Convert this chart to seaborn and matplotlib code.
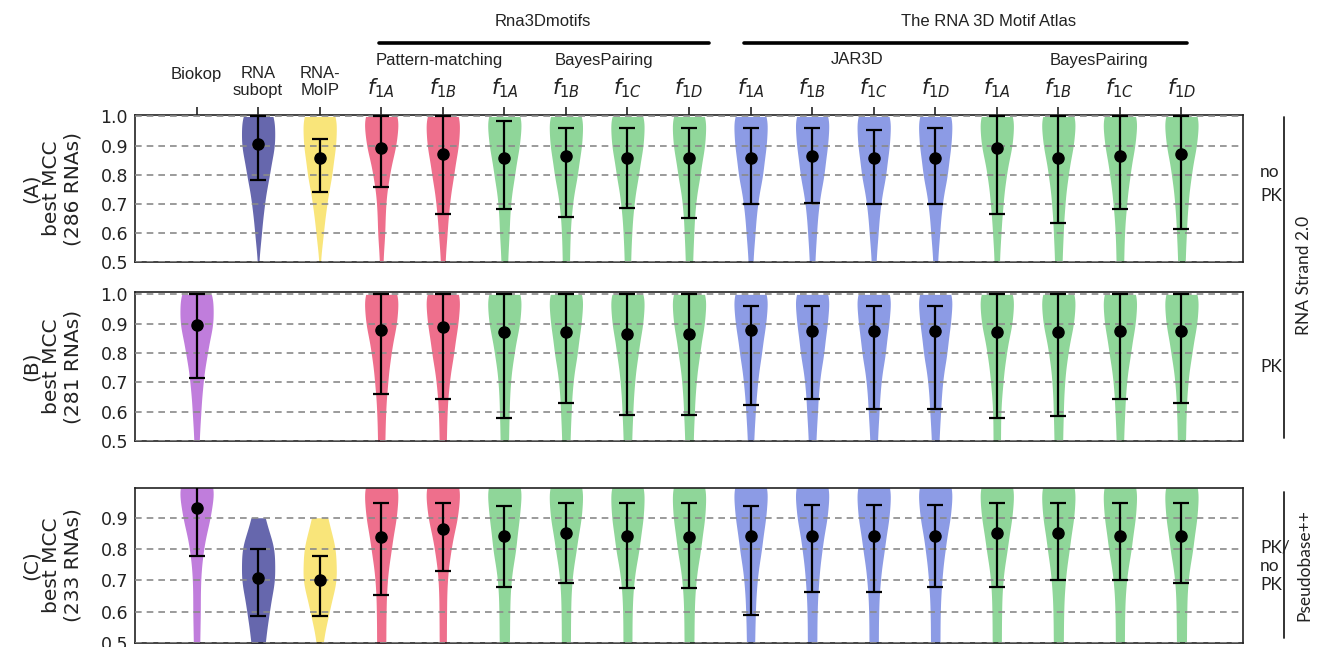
import numpy as np
import pandas as pd
import seaborn as sns
import matplotlib.pyplot as plt
import matplotlib.transforms as mtransforms
from matplotlib.lines import Line2D

# categories (internal keys) and the labels shown above the top panel
methods = ['Biokop', 'RNAsubopt', 'RNA-MoIP',
           'PM_f1A', 'PM_f1B',
           'R3D_BP_f1A', 'R3D_BP_f1B', 'R3D_BP_f1C', 'R3D_BP_f1D',
           'JAR3D_f1A', 'JAR3D_f1B', 'JAR3D_f1C', 'JAR3D_f1D',
           'ATL_BP_f1A', 'ATL_BP_f1B', 'ATL_BP_f1C', 'ATL_BP_f1D']
header_labels = ['Biokop', 'RNA\nsubopt', 'RNA-\nMoIP',
                 '$f_{1A}$', '$f_{1B}$',
                 '$f_{1A}$', '$f_{1B}$', '$f_{1C}$', '$f_{1D}$',
                 '$f_{1A}$', '$f_{1B}$', '$f_{1C}$', '$f_{1D}$',
                 '$f_{1A}$', '$f_{1B}$', '$f_{1C}$', '$f_{1D}$']
method_colors = ['#c07ddc', '#6667ad', '#f9e57a',
                 '#ee6f8c', '#ee6f8c',
                 '#8fd699', '#8fd699', '#8fd699', '#8fd699',
                 '#8c9be5', '#8c9be5', '#8c9be5', '#8c9be5',
                 '#8fd699', '#8fd699', '#8fd699', '#8fd699']

# MCC histogram: bin centres and RNAs per bin
mcc_bins = [0.2, 0.3, 0.4, 0.5, 0.6, 0.7, 0.8, 0.9, 1.0]

counts_a = [None,
            [0, 0, 0, 1, 6, 11, 20, 30, 31],
            [0, 0, 0, 1, 7, 13, 23, 30, 34],
            [2, 2, 3, 3, 7, 8, 15, 28, 36],
            [2, 3, 3, 4, 8, 12, 20, 29, 34],
            [3, 4, 5, 6, 9, 11, 19, 28, 35],
            [3, 4, 5, 7, 8, 12, 22, 30, 35],
            [3, 4, 5, 6, 8, 12, 21, 30, 35],
            [3, 4, 5, 7, 9, 12, 21, 30, 35],
            [2, 2, 3, 4, 8, 12, 22, 28, 33],
            [2, 3, 3, 5, 8, 12, 22, 28, 34],
            [2, 2, 3, 4, 8, 12, 22, 28, 33],
            [2, 2, 3, 4, 8, 12, 22, 28, 33],
            [2, 3, 4, 5, 8, 12, 18, 30, 36],
            [3, 4, 5, 7, 9, 12, 18, 28, 35],
            [3, 4, 5, 7, 8, 12, 18, 27, 34],
            [3, 4, 5, 7, 9, 12, 18, 28, 35]]

counts_b = [[1, 2, 3, 5, 8, 12, 20, 32, 33],
            None,
            None,
            [3, 4, 5, 7, 8, 12, 18, 29, 35],
            [3, 4, 5, 7, 8, 12, 21, 29, 36],
            [4, 5, 6, 8, 9, 11, 18, 29, 35],
            [4, 5, 6, 8, 10, 13, 22, 29, 36],
            [4, 5, 6, 8, 10, 13, 20, 29, 35],
            [4, 5, 6, 8, 10, 13, 20, 29, 35],
            [2, 3, 4, 6, 9, 13, 21, 29, 36],
            [3, 4, 5, 7, 10, 13, 22, 28, 35],
            [3, 4, 5, 7, 10, 13, 22, 28, 35],
            [3, 4, 5, 7, 10, 13, 22, 28, 35],
            [3, 4, 5, 7, 7, 11, 17, 28, 34],
            [4, 5, 6, 8, 9, 11, 17, 28, 34],
            [3, 4, 5, 7, 9, 12, 20, 29, 35],
            [4, 5, 6, 8, 9, 12, 20, 30, 36]]

counts_c = [[2, 3, 4, 6, 7, 7, 12, 25, 36],
            [1, 2, 6, 13, 20, 31, 31, 12, 0],
            [0, 1, 2, 5, 16, 30, 28, 14, 0],
            [4, 5, 7, 9, 9, 11, 19, 29, 36],
            [3, 4, 5, 7, 7, 8, 15, 28, 36],
            [4, 5, 7, 10, 10, 12, 22, 28, 36],
            [4, 5, 7, 9, 9, 11, 20, 30, 36],
            [4, 5, 7, 9, 9, 12, 23, 31, 36],
            [4, 5, 7, 10, 10, 13, 23, 31, 36],
            [3, 4, 6, 8, 9, 12, 21, 29, 36],
            [4, 5, 7, 9, 9, 12, 18, 28, 35],
            [4, 5, 7, 9, 9, 12, 20, 29, 35],
            [4, 5, 7, 9, 9, 12, 18, 28, 35],
            [4, 5, 7, 9, 9, 11, 20, 29, 36],
            [4, 5, 7, 10, 10, 13, 21, 30, 36],
            [4, 5, 7, 9, 9, 12, 22, 30, 36],
            [4, 5, 7, 10, 10, 12, 22, 30, 36]]

nan = np.nan
# black dot and error bar ends
mean_a = [nan, .906, .858, .891, .870, .858, .863, .858, .858, .858, .863, .858, .858, .891, .858, .863, .870]
low_a = [nan, .783, .740, .757, .666, .683, .655, .687, .650, .698, .704, .698, .698, .666, .634, .683, .613]
high_a = [nan, 1.0, .923, 1.0, 1.0, .986, .960, .960, .960, .960, .960, .954, .960, 1.0, 1.0, 1.0, 1.0]

mean_b = [.894, nan, nan, .880, .887, .870, .870, .866, .866, .877, .876, .876, .876, .870, .872, .876, .876]
low_b = [.714, nan, nan, .660, .642, .579, .628, .590, .590, .622, .642, .610, .610, .579, .584, .642, .628]
high_b = [1.0, nan, nan, 1.0, 1.0, 1.0, 1.0, 1.0, 1.0, .961, .961, .961, .961, 1.0, 1.0, 1.0, 1.0]

mean_c = [.932, .707, .702, .837, .865, .841, .852, .843, .838, .843, .841, .841, .841, .852, .852, .841, .841]
low_c = [.779, .586, .586, .654, .731, .680, .693, .676, .676, .589, .664, .664, .680, .680, .702, .702, .693]
high_c = [1.0, .800, .777, .948, .948, .937, .948, .948, .948, .937, .940, .940, .940, .948, .948, .948, .948]

panel_labels = ['(A)\nbest MCC\n(286 RNAs)', '(B)\nbest MCC\n(281 RNAs)', '(C)\nbest MCC\n(233 RNAs)']


def long_frame(counts):
    parts = []
    for m, c in zip(methods, counts):
        if c is None:
            continue
        parts.append(pd.DataFrame({'method': m, 'mcc': np.repeat(mcc_bins, c)}))
    return pd.concat(parts, ignore_index=True)


def fixed_bw(kde):
    # same kernel width for every violin
    return 0.056 / np.std(kde.dataset, ddof=1)


sns.set_theme(style='white')
plt.rcParams['font.family'] = ['DejaVu Sans']
palette = dict(zip(methods, method_colors))

W, H = 1317, 647
fig = plt.figure(figsize=(W / 100, H / 100), dpi=100)


def px_axes(left, top, right, bottom):
    return fig.add_axes([left / W, 1 - bottom / H, (right - left) / W, (bottom - top) / H])


ax_a = px_axes(135, 115, 1243, 262)
ax_b = px_axes(135, 292, 1243, 441)
ax_c = px_axes(135, 488, 1243, 643)

panels = [(ax_a, counts_a, mean_a, low_a, high_a, (0.5, 1.005), [0.5, 0.6, 0.7, 0.8, 0.9, 1.0]),
          (ax_b, counts_b, mean_b, low_b, high_b, (0.5, 1.008), [0.5, 0.6, 0.7, 0.8, 0.9, 1.0]),
          (ax_c, counts_c, mean_c, low_c, high_c, (0.5, 0.995), [0.5, 0.6, 0.7, 0.8, 0.9])]

for k, (ax, counts, mean, low, high, ylim, yticks) in enumerate(panels):
    df = long_frame(counts)
    sns.violinplot(data=df, x='method', y='mcc', hue='method', order=methods, hue_order=methods,
                   palette=palette, cut=0, inner=None, bw_method=fixed_bw, density_norm='width',
                   width=0.54, linewidth=0, saturation=1, legend=False, ax=ax)
    mean = np.array(mean)
    yerr = [mean - np.array(low), np.array(high) - mean]
    ax.errorbar(range(len(methods)), mean, yerr=yerr, fmt='o', color='black', ms=8,
                elinewidth=1.6, capsize=6, capthick=1.6, zorder=5)
    ax.set_xlim(-1, 17)
    ax.set_ylim(*ylim)
    ax.set_yticks(yticks)
    ax.set_yticklabels([f'{t:.1f}' for t in yticks])
    ax.yaxis.grid(True, linestyle=(0, (4, 3)), color='#8a8a8a', linewidth=1.2)
    ax.xaxis.grid(False)
    ax.set_axisbelow(False)
    ax.set_xlabel('')
    ax.set_ylabel('')
    ax.tick_params(axis='y', length=0, pad=5, labelsize=12.5, labelcolor='#222222')
    for s in ax.spines.values():
        s.set_color('#222222')
        s.set_linewidth(1.2)
    ax.text(-0.075, 0.5, panel_labels[k], transform=ax.transAxes, rotation=90,
            ha='center', va='center', multialignment='center', fontsize=14.5,
            linespacing=1.12, color='#222222')
    if k == 0:
        ax.set_xticks(range(len(methods)))
        ax.tick_params(axis='x', top=True, bottom=False, labeltop=False, labelbottom=False,
                       direction='out', length=6, width=1.2, color='#222222')
    else:
        ax.tick_params(axis='x', length=0, labelbottom=False)

# header above panel A
trans = mtransforms.blended_transform_factory(ax_a.transData, fig.transFigure)
head_font = ['Liberation Sans', 'DejaVu Sans']


def fy(px):
    return 1 - px / H


for i, lab in enumerate(header_labels):
    if lab.startswith('$'):
        fig.text(i, fy(88), lab, transform=trans, ha='center', va='center', fontsize=15,
                 color='#222222')
    elif '\n' in lab:
        fig.text(i, fy(82), lab, transform=trans, ha='center', va='center', fontsize=12,
                 family=head_font, linespacing=1.15, color='#222222')
    else:
        fig.text(i, fy(74), lab, transform=trans, ha='center', va='center', fontsize=12,
                 family=head_font, color='#222222')

for txt, x in [('Pattern-matching', 3.94), ('BayesPairing', 6.62),
               ('JAR3D', 10.73), ('BayesPairing', 14.66)]:
    fig.text(x, fy(60), txt, transform=trans, ha='center', va='center', fontsize=12,
             family=head_font, color='#222222')
for txt, x in [('Rna3Dmotifs', 5.63), ('The RNA 3D Motif Atlas', 12.87)]:
    fig.text(x, fy(22), txt, transform=trans, ha='center', va='center', fontsize=12,
             family=head_font, color='#222222')
for x0, x1 in [(2.97, 8.33), (8.9, 16.09)]:
    fig.add_artist(Line2D([x0, x1], [fy(43), fy(43)], transform=trans, color='black', lw=2.6))

# annotations on the right
side_font = ['Lato', 'DejaVu Sans']
for txt, ypx, ls in [('no\nPK', 184, 1.6), ('PK', 367, 1.2), ('PK/\nno\nPK', 566, 1.2)]:
    fig.text(1260 / W, fy(ypx), txt, ha='left', va='center', fontsize=12.5,
             family=side_font, linespacing=ls, color='#222222')
for y0, y1 in [(117, 438), (492, 638)]:
    fig.add_artist(Line2D([1284 / W, 1284 / W], [fy(y0), fy(y1)], transform=fig.transFigure,
                          color='#222222', lw=1.3))
for txt, ypx in [('RNA Strand 2.0', 275), ('Pseudobase++', 565)]:
    fig.text(1304 / W, fy(ypx), txt, rotation=90, ha='center', va='center', fontsize=12.5,
             family=side_font, color='#222222')

fig.savefig('out.png', dpi=100)
